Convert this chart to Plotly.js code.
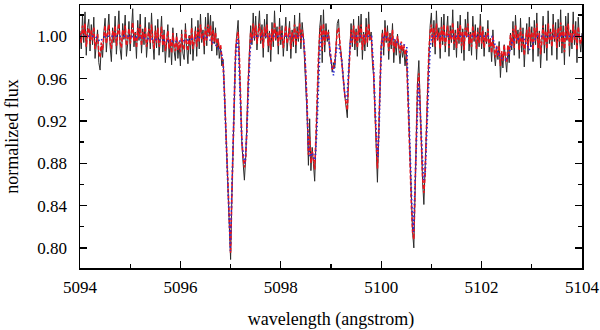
<!DOCTYPE html>
<html>
<head>
<meta charset="utf-8">
<script src="https://cdn.plot.ly/plotly-3.0.1.min.js"></script>
<style>
  body { margin: 0; background: #fff; }
  #spectrum { width: 600px; height: 330px; }
</style>
</head>
<body>
<div id="spectrum"></div>
<script>
// observed spectrum, sampled every 0.025 A from 5094 A (one row = 0.5 A)
const waveStart = 5094;
const waveStep = 0.025;

const observedFlux = [
  1.005, 0.988, 1.020, 0.994, 1.023, 0.982, 1.008, 1.016, 0.986, 1.011, 0.992, 1.018, 0.979, 0.996, 1.006, 0.975, 0.968, 0.991, 0.980, 1.004,
  1.017, 0.985, 1.002, 1.021, 0.990, 0.976, 1.008, 0.994, 1.019, 0.983, 1.003, 1.024, 0.988, 0.978, 1.012, 0.997, 1.020, 0.981, 0.993, 1.014,
  0.986, 1.009, 1.026, 0.990, 1.004, 0.979, 1.015, 0.996, 1.021, 0.984, 1.007, 0.992, 1.018, 0.980, 1.001, 1.013, 0.988, 1.022, 0.995, 0.978,
  1.010, 0.989, 1.016, 0.982, 0.998, 1.019, 0.985, 1.006, 0.975, 0.993, 1.011, 0.980, 0.997, 0.973, 1.008, 0.986, 0.977, 1.003, 0.979, 0.992,
  0.972, 1.006, 0.984, 0.978, 1.012, 0.990, 0.974, 1.001, 0.983, 1.017, 0.977, 0.995, 1.009, 0.981, 1.015, 0.988, 1.021, 0.994, 1.006, 0.983,
  1.018, 0.991, 1.022, 1.000, 1.020, 0.986, 1.014, 0.993, 1.008, 0.982, 0.998, 0.979, 0.990, 0.972, 0.978, 0.950, 0.918, 0.884, 0.850, 0.815,
  0.789, 0.848, 0.900, 0.948, 0.985, 1.002, 1.015, 0.975, 0.925, 0.898, 0.880, 0.864, 0.885, 0.912, 0.955, 0.985, 1.010, 0.992, 1.022, 0.996,
  1.019, 0.987, 1.008, 1.024, 0.993, 1.011, 0.980, 1.016, 0.998, 1.021, 0.985, 1.005, 0.976, 1.013, 0.990, 1.024, 0.996, 1.009, 0.983, 1.017,
  0.992, 1.010, 0.981, 1.003, 1.018, 0.986, 0.998, 1.014, 0.979, 1.006, 0.990, 1.020, 0.984, 1.009, 0.995, 1.022, 0.988, 1.013, 1.000, 0.978,
  0.955, 0.925, 0.878, 0.922, 0.873, 0.895, 0.880, 0.863, 0.900, 0.938, 0.972, 1.008, 1.020, 0.975, 1.025, 0.985, 1.012, 0.995, 1.006, 0.982,
  0.978, 0.966, 0.975, 0.970, 0.990, 1.012, 1.016, 0.992, 0.985, 0.966, 0.958, 0.944, 0.935, 0.923, 0.962, 0.995, 1.012, 0.990, 1.016, 0.987,
  1.007, 0.981, 1.019, 0.994, 1.021, 0.978, 1.004, 0.986, 1.017, 0.990, 1.023, 0.996, 1.004, 0.975, 0.962, 0.930, 0.896, 0.862, 0.905, 0.952,
  0.990, 1.006, 0.982, 1.015, 0.994, 1.010, 0.978, 1.003, 0.988, 1.012, 0.975, 0.996, 0.982, 1.002, 0.985, 0.974, 0.992, 0.980, 0.988, 0.972,
  0.985, 0.960, 0.925, 0.885, 0.845, 0.815, 0.800, 0.852, 0.912, 0.958, 0.977, 0.935, 0.892, 0.862, 0.841, 0.868, 0.910, 0.950, 0.985, 1.010,
  1.022, 0.990, 1.015, 0.983, 1.024, 0.996, 1.008, 0.979, 1.018, 0.992, 1.021, 0.985, 1.003, 1.019, 0.981, 1.010, 0.994, 1.025, 0.987, 1.006,
  0.980, 1.014, 0.993, 1.020, 0.984, 1.007, 0.977, 1.016, 0.999, 1.023, 0.986, 1.004, 0.982, 1.019, 0.995, 1.011, 0.978, 1.008, 0.990, 1.021,
  0.988, 1.009, 0.981, 1.004, 0.993, 1.015, 0.985, 0.998, 0.976, 1.006, 0.984, 0.972, 0.990, 0.978, 0.995, 0.961, 0.983, 0.970, 0.992, 0.974,
  0.966, 0.988, 0.975, 1.003, 0.987, 1.014, 0.982, 1.020, 0.993, 1.006, 0.979, 1.017, 0.985, 1.008, 0.971, 0.995, 1.012, 0.983, 1.018, 0.990,
  1.009, 0.976, 1.015, 0.992, 1.022, 0.981, 1.005, 0.970, 0.998, 1.019, 0.984, 1.011, 0.977, 1.024, 0.993, 1.007, 0.982, 1.021, 0.995, 1.013,
  0.978, 1.016, 0.990, 1.025, 0.984, 1.010, 0.973, 1.019, 0.996, 1.022, 0.981, 1.006, 0.988, 1.023, 0.992, 1.014, 0.975, 1.018, 0.997, 0.985,
  1.003
];

// fitted spectrum (red dashed), same sampling
const fittedFlux = [
  1.003, 0.994, 1.010, 0.999, 1.012, 0.990, 1.004, 1.008, 0.993, 1.006, 0.996, 1.009, 0.988, 0.997, 1.002, 0.985, 0.980, 0.994, 0.987, 1.000,
  1.010, 0.993, 1.001, 1.011, 0.995, 0.988, 1.005, 0.997, 1.010, 0.991, 1.002, 1.012, 0.994, 0.989, 1.006, 0.998, 1.010, 0.991, 0.997, 1.007,
  0.993, 1.004, 1.013, 0.995, 1.003, 0.989, 1.008, 0.998, 1.011, 0.991, 1.004, 0.996, 1.009, 0.990, 1.001, 1.007, 0.994, 1.011, 0.997, 0.988,
  1.005, 0.994, 1.008, 0.990, 0.998, 1.009, 0.991, 1.002, 0.986, 0.996, 1.005, 0.988, 0.997, 0.984, 1.003, 0.992, 0.986, 1.000, 0.987, 0.995,
  0.985, 1.002, 0.991, 0.987, 1.006, 0.994, 0.986, 1.000, 0.991, 1.008, 0.988, 0.997, 1.005, 0.990, 1.008, 0.995, 1.011, 0.997, 1.003, 0.991,
  1.009, 0.996, 1.011, 1.000, 1.010, 0.992, 1.006, 0.995, 1.003, 0.990, 0.997, 0.988, 0.992, 0.980, 0.975, 0.950, 0.917, 0.884, 0.846, 0.812,
  0.795, 0.850, 0.905, 0.955, 0.988, 1.000, 1.004, 0.980, 0.932, 0.900, 0.886, 0.876, 0.884, 0.911, 0.957, 0.986, 1.004, 0.995, 1.012, 0.998,
  1.010, 0.993, 1.004, 1.012, 0.996, 1.006, 0.989, 1.009, 0.999, 1.011, 0.991, 1.003, 0.987, 1.007, 0.995, 1.013, 0.998, 1.005, 0.991, 1.009,
  0.996, 1.005, 0.989, 1.002, 1.010, 0.993, 0.999, 1.008, 0.988, 1.004, 0.995, 1.011, 0.991, 1.005, 0.998, 1.012, 0.994, 1.006, 0.999, 0.985,
  0.962, 0.935, 0.888, 0.905, 0.880, 0.892, 0.884, 0.874, 0.905, 0.948, 0.980, 1.002, 1.010, 0.986, 1.012, 0.992, 1.006, 0.998, 1.004, 0.989,
  0.980, 0.968, 0.970, 0.975, 0.990, 1.005, 1.008, 0.994, 0.982, 0.966, 0.955, 0.944, 0.937, 0.930, 0.960, 0.991, 1.006, 0.994, 1.010, 0.993,
  1.004, 0.989, 1.010, 0.997, 1.011, 0.987, 1.002, 0.992, 1.009, 0.994, 1.012, 0.998, 1.001, 0.982, 0.966, 0.931, 0.898, 0.875, 0.910, 0.955,
  0.991, 1.003, 0.990, 1.008, 0.996, 1.005, 0.986, 1.001, 0.992, 1.006, 0.984, 0.997, 0.989, 1.000, 0.990, 0.984, 0.995, 0.986, 0.992, 0.982,
  0.988, 0.958, 0.920, 0.880, 0.842, 0.815, 0.808, 0.855, 0.912, 0.955, 0.965, 0.930, 0.892, 0.866, 0.852, 0.870, 0.910, 0.952, 0.986, 1.004,
  1.011, 0.994, 1.008, 0.990, 1.012, 0.997, 1.004, 0.988, 1.009, 0.995, 1.011, 0.991, 1.002, 1.010, 0.989, 1.005, 0.996, 1.013, 0.993, 1.003,
  0.989, 1.008, 0.996, 1.011, 0.991, 1.004, 0.987, 1.008, 0.999, 1.012, 0.993, 1.002, 0.990, 1.010, 0.997, 1.005, 0.988, 1.004, 0.994, 1.010,
  0.993, 1.005, 0.989, 1.001, 0.995, 1.007, 0.990, 0.997, 0.984, 1.000, 0.988, 0.980, 0.991, 0.981, 0.991, 0.972, 0.986, 0.977, 0.992, 0.979,
  0.975, 0.992, 0.983, 1.001, 0.991, 1.007, 0.989, 1.010, 0.996, 1.003, 0.987, 1.008, 0.991, 1.002, 0.982, 0.995, 1.006, 0.989, 1.009, 0.995,
  1.004, 0.987, 1.008, 0.996, 1.012, 0.989, 1.003, 0.983, 0.998, 1.010, 0.992, 1.005, 0.988, 1.012, 0.996, 1.004, 0.990, 1.011, 0.997, 1.006,
  0.989, 1.008, 0.995, 1.013, 0.991, 1.005, 0.985, 1.010, 0.997, 1.012, 0.991, 1.003, 0.994, 1.011, 0.996, 1.006, 0.987, 1.009, 0.998, 0.993,
  1.001
];

// synthetic model (blue dotted), own wavelength points
const modelWave = [
  5094.00, 5094.30, 5094.40, 5094.50, 5095.00, 5095.30, 5095.90, 5096.10, 5096.50, 5096.70, 5096.78, 5096.82,
  5096.856, 5096.890, 5096.924, 5096.956, 5096.995, 5097.024, 5097.056, 5097.090, 5097.124, 5097.140,
  5097.155, 5097.189, 5097.223, 5097.255, 5097.289, 5097.323, 5097.355, 5097.389, 5097.422, 5097.50,
  5098.40, 5098.45, 5098.485, 5098.52, 5098.55, 5098.585, 5098.618, 5098.65, 5098.684, 5098.718, 5098.75, 5098.784, 5098.82,
  5098.95, 5099.016, 5099.05, 5099.083, 5099.117, 5099.15, 5099.216, 5099.25, 5099.28, 5099.316, 5099.35, 5099.38, 5099.42,
  5099.81, 5099.846, 5099.88, 5099.914, 5099.934, 5099.96, 5099.98, 5100.01, 5100.05,
  5100.25, 5100.35, 5100.45, 5100.51, 5100.545, 5100.578, 5100.611, 5100.643, 5100.677, 5100.71, 5100.743,
  5100.777, 5100.81, 5100.843, 5100.877, 5100.91, 5100.943, 5100.976, 5101.01,
  5102.20, 5102.37, 5102.50, 5102.62, 5102.83, 5102.95, 5103.10, 5104.00
];
const modelFlux = [
  1.000, 1.000, 0.995, 1.000, 1.000, 0.998, 0.995, 0.996, 1.000, 0.992, 0.987, 0.985,
  0.971, 0.930, 0.886, 0.839, 0.797, 0.852, 0.909, 0.971, 0.996, 0.997,
  0.987, 0.940, 0.902, 0.886, 0.880, 0.909, 0.956, 0.987, 0.998, 1.000,
  1.000, 0.999, 0.977, 0.940, 0.896, 0.886, 0.890, 0.886, 0.883, 0.909, 0.956, 0.993, 1.000,
  1.000, 0.971, 0.963, 0.977, 0.990, 0.992, 0.977, 0.957, 0.943, 0.940, 0.965, 0.993, 1.000,
  1.000, 0.971, 0.930, 0.896, 0.886, 0.914, 0.956, 0.993, 1.000,
  0.997, 0.993, 0.992, 0.990, 0.940, 0.886, 0.840, 0.815, 0.858, 0.914, 0.956,
  0.930, 0.893, 0.864, 0.871, 0.909, 0.956, 0.990, 1.000,
  1.000, 0.980, 0.977, 0.996, 0.999, 0.987, 1.000, 1.000
];

const gridWave = observedFlux.map((f, i) => waveStart + i * waveStep);

const observed = {
  x: gridWave, y: observedFlux, type: 'scatter', mode: 'lines',
  line: { color: '#2b2b2b', width: 1 }, name: 'observed'
};
const fitted = {
  x: gridWave, y: fittedFlux, type: 'scatter', mode: 'lines',
  line: { color: '#e8141c', width: 1.6, dash: '4px,2px' }, name: 'fit'
};
const model = {
  x: modelWave, y: modelFlux, type: 'scatter', mode: 'lines',
  line: { color: '#2b2bd0', width: 1.6, dash: '1.5px,2.5px' }, name: 'model'
};

const serif = '"Liberation Serif", "Times New Roman", serif';
const xRange = [5094, 5104];
const yRange = [0.781, 1.0295];

const layout = {
  width: 600, height: 330,
  margin: { l: 80, r: 18, t: 5, b: 62 },
  paper_bgcolor: '#fff', plot_bgcolor: '#fff',
  showlegend: false,
  font: { family: serif, size: 17, color: '#000' },
  xaxis: {
    range: xRange, dtick: 2, tick0: 5094,
    ticks: 'inside', ticklen: 7, tickwidth: 1.3, tickcolor: '#000',
    minor: { dtick: 1, ticks: 'inside', ticklen: 4, tickwidth: 1.2, tickcolor: '#000' },
    showline: true, linecolor: '#000', linewidth: 1.5, mirror: 'ticks',
    showgrid: false, zeroline: false, automargin: false,
    tickfont: { family: serif, size: 17 }, ticklabelstandoff: 3,
    title: { text: 'wavelength (angstrom)', font: { family: serif, size: 18 }, standoff: 19 }
  },
  yaxis: {
    range: yRange, dtick: 0.04, tick0: 0.8, tickformat: '.2f',
    ticks: 'inside', ticklen: 7, tickwidth: 1.3, tickcolor: '#000',
    minor: { dtick: 0.02, ticks: 'inside', ticklen: 4, tickwidth: 1.2, tickcolor: '#000' },
    showline: true, linecolor: '#000', linewidth: 1.5, mirror: 'ticks',
    showgrid: false, zeroline: false, automargin: false,
    tickfont: { family: serif, size: 17 }, ticklabelstandoff: 8,
    title: { text: 'normalized flux', font: { family: serif, size: 18 }, standoff: 14 }
  },
  // second pair of axes only to give the ticks their outer half
  xaxis2: {
    overlaying: 'x', side: 'bottom', range: xRange, dtick: 2, tick0: 5094,
    ticks: 'outside', ticklen: 8, tickwidth: 1.3, tickcolor: '#000',
    minor: { dtick: 1, ticks: 'outside', ticklen: 4, tickwidth: 1.2, tickcolor: '#000' },
    showticklabels: false, showline: false, showgrid: false, zeroline: false
  },
  yaxis2: {
    overlaying: 'y', side: 'left', range: yRange, dtick: 0.04, tick0: 0.8,
    ticks: 'outside', ticklen: 7, tickwidth: 1.3, tickcolor: '#000',
    minor: { dtick: 0.02, ticks: 'outside', ticklen: 4, tickwidth: 1.2, tickcolor: '#000' },
    showticklabels: false, showline: false, showgrid: false, zeroline: false
  }
};

Plotly.newPlot('spectrum', [observed, fitted, model], layout, { staticPlot: true });
</script>
</body>
</html>
